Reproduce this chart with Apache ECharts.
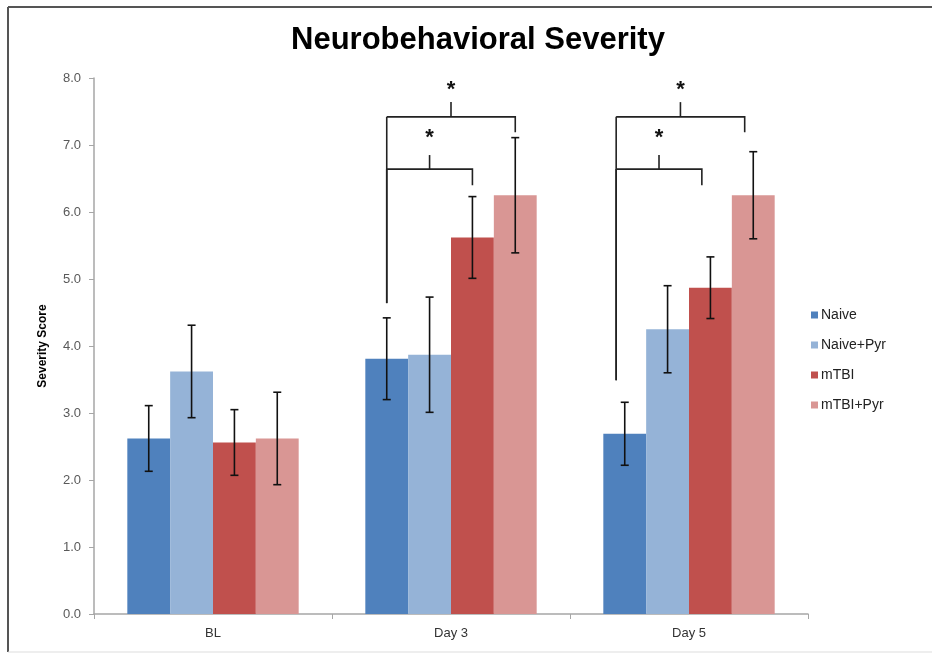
<!DOCTYPE html>
<html>
<head>
<meta charset="utf-8">
<script src="https://cdn.jsdelivr.net/npm/echarts@6/dist/echarts.min.js"></script>
<style>
html,body{margin:0;padding:0;background:#fff;}
#chart{width:932px;height:654px;}
</style>
</head>
<body>
<div id="chart"></div>
<script>
// ---- data ----
const categories = ['BL', 'Day 3', 'Day 5'];
const seriesNames = ['Naive', 'Naive+Pyr', 'mTBI', 'mTBI+Pyr'];
const naive     = [2.62, 3.81, 2.69];
const naivePyr  = [3.62, 3.87, 4.25];
const mtbi      = [2.56, 5.62, 4.87];
const mtbiPyr   = [2.62, 6.25, 6.25];
const naiveErr    = [0.49, 0.61, 0.47];
const naivePyrErr = [0.69, 0.86, 0.65];
const mtbiErr     = [0.49, 0.61, 0.46];
const mtbiPyrErr  = [0.69, 0.86, 0.65];
const yTicks = [0, 1, 2, 3, 4, 5, 6, 7, 8];
// significance brackets: category index, from-bar, to-bar, bracket level, drop end, tick top, star level, left line bottom
const brackets = [
  [1, 0, 3, 7.42, 7.19, 7.64, 7.82, 4.64],
  [1, 0, 2, 6.64, 6.40, 6.85, 7.10, 4.64],
  [2, 0, 3, 7.42, 7.19, 7.64, 7.82, 3.49],
  [2, 0, 2, 6.64, 6.40, 6.85, 7.10, 3.49]
];
// horizontal nudge of each bracket, in bar widths (style)
const bracketShift = [0, 0, -0.2, -0.2];

const colors = ['#4F81BD', '#95B3D7', '#C0504D', '#D99694'];
const values = [naive, naivePyr, mtbi, mtbiPyr];
const errs = [naiveErr, naivePyrErr, mtbiErr, mtbiPyrErr];
const GAP = 0.28, NB = 4;

function barOffset(band, idx) {
  const bw = band * (1 - GAP) / NB;
  return -band * (1 - GAP) / 2 + bw * (idx + 0.5);
}

function errRender(idx) {
  return function (params, api) {
    const cat = api.value(0), lo = api.value(1), hi = api.value(2);
    const band = api.size([1, 0])[0];
    const off = barOffset(band, idx);
    const pHi = api.coord([cat, hi]);
    const pLo = api.coord([cat, lo]);
    const x = pHi[0] + off, cap = 4;
    const st = { stroke: '#111', lineWidth: 1.6 };
    return {
      type: 'group',
      children: [
        { type: 'line', shape: { x1: x, y1: pHi[1], x2: x, y2: pLo[1] }, style: st },
        { type: 'line', shape: { x1: x - cap, y1: pHi[1], x2: x + cap, y2: pHi[1] }, style: st },
        { type: 'line', shape: { x1: x - cap, y1: pLo[1], x2: x + cap, y2: pLo[1] }, style: st }
      ]
    };
  };
}

function bracketRender(params, api) {
  const cat = api.value(0), b0 = api.value(1), b1 = api.value(2);
  const lvl = api.value(3), drop = api.value(4), tickTop = api.value(5), star = api.value(6), bottom = api.value(7);
  const band = api.size([1, 0])[0];
  const bw = band * (1 - GAP) / NB;
  const shift = (bracketShift[params.dataIndex] || 0) * bw;
  const base = api.coord([cat, 0])[0] + shift;
  const x0 = base + barOffset(band, b0);
  const x1 = base + barOffset(band, b1);
  const xm = (x0 + x1) / 2;
  const yl = api.coord([cat, lvl])[1];
  const yd = api.coord([cat, drop])[1];
  const yt = api.coord([cat, tickTop])[1];
  const ys = api.coord([cat, star])[1];
  const yb = api.coord([cat, bottom])[1];
  const st = { stroke: '#222', lineWidth: 1.6 };
  return {
    type: 'group',
    children: [
      { type: 'line', shape: { x1: x0, y1: yb, x2: x0, y2: yl }, style: st },
      { type: 'polyline', shape: { points: [[x0, yl], [x1, yl], [x1, yd]] }, style: Object.assign({ fill: null }, st) },
      { type: 'line', shape: { x1: xm, y1: yl, x2: xm, y2: yt }, style: st },
      { type: 'text', x: xm, y: ys, style: { text: '*', fill: '#111', font: 'bold 22px "Liberation Sans", Arial, sans-serif', align: 'center', verticalAlign: 'middle' } }
    ]
  };
}

const series = [];
seriesNames.forEach(function (name, i) {
  series.push({
    name: name,
    type: 'bar',
    data: values[i],
    barGap: '0%',
    barCategoryGap: (GAP * 100) + '%',
    itemStyle: { color: colors[i] },
    emphasis: { disabled: true },
    z: 2
  });
});
seriesNames.forEach(function (name, i) {
  series.push({
    name: name + ' err',
    type: 'custom',
    renderItem: errRender(i),
    data: values[i].map(function (v, c) { return [c, v - errs[i][c], v + errs[i][c]]; }),
    z: 5,
    silent: true
  });
});
series.push({
  name: 'sig',
  type: 'custom',
  renderItem: bracketRender,
  data: brackets,
  z: 6,
  silent: true,
  clip: false
});

const chart = echarts.init(document.getElementById('chart'), null, { renderer: 'canvas' });
chart.setOption({
  animation: false,
  backgroundColor: '#fff',
  textStyle: { fontFamily: '"Liberation Sans", Arial, sans-serif' },
  title: {
    text: 'Neurobehavioral Severity',
    left: 286,
    top: 20,
    textStyle: { fontSize: 31, fontWeight: 'bold', color: '#000', fontFamily: '"Liberation Sans", Arial, sans-serif' }
  },
  legend: {
    data: seriesNames,
    orient: 'vertical',
    left: 806,
    top: 303,
    itemWidth: 7,
    itemHeight: 7,
    itemGap: 16,
    icon: 'rect',
    textStyle: { fontSize: 14, color: '#222', lineHeight: 14, padding: [0, 0, 0, -2] }
  },
  grid: { left: 94, right: 124, top: 78, bottom: 40, containLabel: false },
  xAxis: {
    type: 'category',
    data: categories,
    axisLine: { lineStyle: { color: '#a6a6a6', width: 1.5 } },
    axisTick: { show: true, length: 5, lineStyle: { color: '#a6a6a6' } },
    axisLabel: { fontSize: 13, color: '#333', margin: 13 },
    splitLine: { show: false }
  },
  yAxis: {
    type: 'value',
    min: 0,
    max: 8,
    interval: 1,
    name: 'Severity Score',
    nameLocation: 'middle',
    nameGap: 45,
    nameTextStyle: { fontSize: 12, fontWeight: 'bold', color: '#000' },
    axisLine: { show: true, lineStyle: { color: '#a6a6a6', width: 1.5 } },
    axisTick: { show: true, length: 5, lineStyle: { color: '#a6a6a6' } },
    axisLabel: { fontSize: 13, color: '#595959', margin: 13, formatter: function (v) { return v.toFixed(1); } },
    splitLine: { show: false }
  },
  graphic: [
    { type: 'line', shape: { x1: 8, y1: 7, x2: 932, y2: 7 }, style: { stroke: '#555', lineWidth: 2 }, z: 100 },
    { type: 'line', shape: { x1: 8, y1: 7, x2: 8, y2: 652 }, style: { stroke: '#555', lineWidth: 2 }, z: 100 },
    { type: 'line', shape: { x1: 8, y1: 652, x2: 932, y2: 652 }, style: { stroke: '#ddd', lineWidth: 1 }, z: 100 }
  ],
  series: series
});
</script>
</body>
</html>
